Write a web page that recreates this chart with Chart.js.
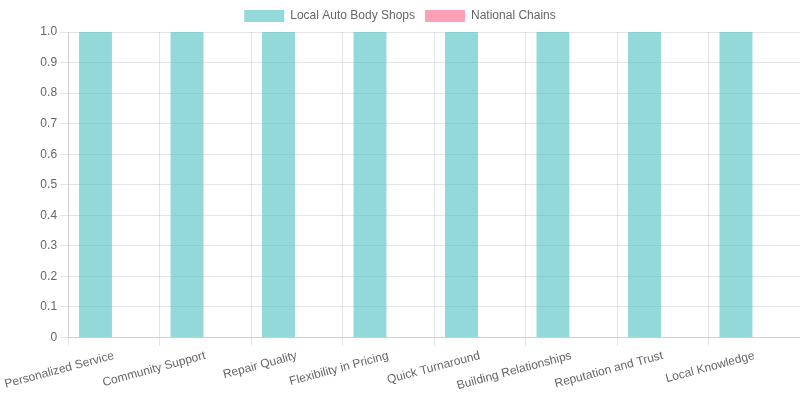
<!DOCTYPE html>
<html><head><meta charset="utf-8">
<script src="https://cdn.jsdelivr.net/npm/chart.js@4"></script>
<style>body{margin:0}#w{width:800px;height:400px}</style>
</head><body><div id="w"><canvas id="c"></canvas></div>
<script>
const categories = ["Personalized Service","Community Support","Repair Quality","Flexibility in Pricing","Quick Turnaround","Building Relationships","Reputation and Trust","Local Knowledge"];
const localShops = [9, 8, 8, 7, 6, 9, 9, 10];
const nationalChains = [0, 0, 0, 0, 0, 0, 0, 0];
const yTicks = [0,0.1,0.2,0.3,0.4,0.5,0.6,0.7,0.8,0.9,1.0];
Chart.defaults.font.family = "'Liberation Sans', Arial, sans-serif";
Chart.defaults.color = '#666';
new Chart(document.getElementById('c'), {
  type: 'bar',
  data: { labels: categories, datasets: [
    { label: 'Local Auto Body Shops', data: localShops, backgroundColor: 'rgba(75,192,192,0.6)', borderWidth: 0 },
    { label: 'National Chains', data: nationalChains, backgroundColor: 'rgba(255,99,132,0.6)', borderWidth: 0 }
  ]},
  options: {
    responsive: true, maintainAspectRatio: false, animation: false,
    layout: { padding: { bottom: 4 } },
    plugins: { legend: { position: 'top' } },
    scales: {
      x: { ticks: { maxRotation: 15, minRotation: 15, font: { size: 12 } } },
      y: { min: 0, max: 1, afterBuildTicks: ax => { ax.ticks = yTicks.map(v => ({ value: v })); },
           ticks: { callback: v => v === 0 ? '0' : v.toFixed(1) } }
    }
  }
});
</script></body></html>
